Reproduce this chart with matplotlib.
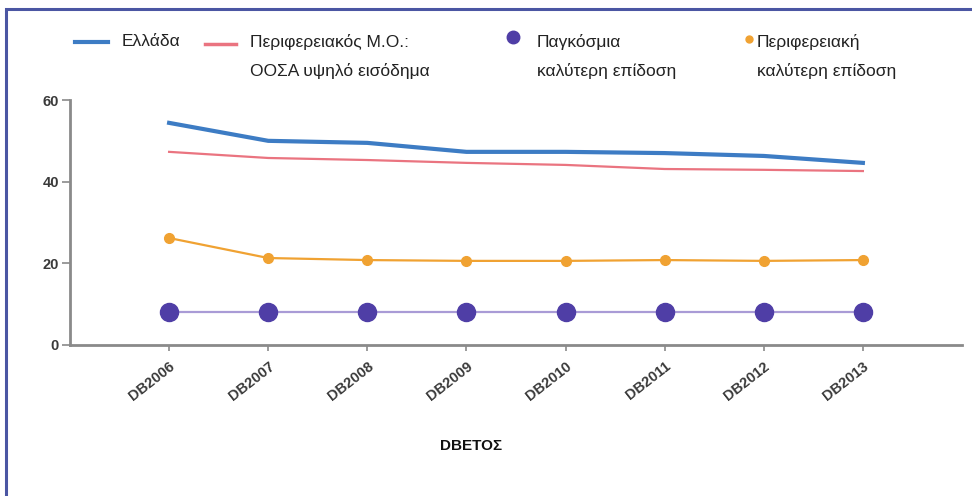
import matplotlib.pyplot as plt
from matplotlib.lines import Line2D
from matplotlib.patches import Rectangle
from matplotlib.transforms import ScaledTranslation

# Dane
lata = ['DB2006', 'DB2007', 'DB2008', 'DB2009', 'DB2010', 'DB2011', 'DB2012', 'DB2013']
ellada = [54.4, 50.0, 49.5, 47.3, 47.3, 47.0, 46.3, 44.6]
perif_mo = [47.3, 45.8, 45.3, 44.6, 44.1, 43.1, 42.9, 42.6]
perif_best = [26.2, 21.3, 20.8, 20.6, 20.6, 20.8, 20.6, 20.8]
global_best = [8.1, 8.1, 8.1, 8.1, 8.1, 8.1, 8.1, 8.1]

c_blue = '#3d7cc4'
c_red = '#ea7480'
c_orange = '#f0a232'
c_purple = '#4f3ea6'
c_purple_line = '#a99bd6'
c_axis = '#8a8a8a'
c_text = '#3a3a3a'

plt.rcParams['font.family'] = ['Liberation Sans', 'DejaVu Sans']

fig = plt.figure(figsize=(9.72, 4.96), dpi=100)
W, H = 972, 496
ax = fig.add_axes([70 / W, 1 - 345 / H, (962 - 70) / W, (345 - 100) / H])

x = range(len(lata))
ax.plot(x, global_best, color=c_purple_line, lw=1.6, marker='o', ms=13,
        mfc=c_purple, mec=c_purple, zorder=3)
ax.plot(x, perif_best, color=c_orange, lw=1.6, marker='o', ms=7,
        mfc=c_orange, mec=c_orange, zorder=3)
ax.plot(x, perif_mo, color=c_red, lw=1.6, zorder=4)
ax.plot(x, ellada, color=c_blue, lw=3, zorder=5)

ax.set_xlim(-1, 8)
ax.set_ylim(0, 60)
ax.set_yticks([0, 20, 40, 60])
ax.set_xticks(list(x))
ax.set_xticklabels(lata, rotation=38, ha='right', va='top', rotation_mode='anchor',
                   fontsize=10.5, fontweight='bold', color=c_text)
przesun = ScaledTranslation(10 / 100, 0, fig.dpi_scale_trans)
for lab in ax.get_xticklabels():
    lab.set_transform(lab.get_transform() + przesun)
for lab in ax.get_yticklabels():
    lab.set_fontsize(10.5)
    lab.set_fontweight('bold')
    lab.set_color(c_text)

for s in ['top', 'right']:
    ax.spines[s].set_visible(False)
for s in ['left', 'bottom']:
    ax.spines[s].set_color(c_axis)
    ax.spines[s].set_linewidth(2)
ax.tick_params(axis='y', length=6, width=1.2, color=c_axis, pad=2)
ax.tick_params(axis='x', length=4, width=1.2, color=c_axis, pad=6)

ax.set_xlabel('DBETOΣ', fontsize=11, fontweight='bold', color='#111111', labelpad=26, x=0.45)

# Legenda (reczna, tekst w dwoch liniach)
def pozycja(px, py):
    return px / W, 1 - py / H

fs = 12.5
fig.add_artist(Line2D([75 / W, 108 / W], [1 - 42 / H] * 2, color=c_blue, lw=3))
fig.text(*pozycja(122, 42), 'Ελλάδα', fontsize=fs, va='center', color='#222222')
fig.add_artist(Line2D([205 / W, 236 / W], [1 - 44 / H] * 2, color=c_red, lw=2.5))
fig.text(*pozycja(250, 42), 'Περιφερειακός Μ.Ο.:', fontsize=fs, va='center', color='#222222')
fig.text(*pozycja(250, 71), 'ΟΟΣΑ υψηλό εισόδημα', fontsize=fs, va='center', color='#222222')
fig.add_artist(Line2D([513 / W], [1 - 37 / H], marker='o', ms=9, color=c_purple, lw=0))
fig.text(*pozycja(537, 42), 'Παγκόσμια', fontsize=fs, va='center', color='#222222')
fig.text(*pozycja(537, 71), 'καλύτερη επίδοση', fontsize=fs, va='center', color='#222222')
fig.add_artist(Line2D([749 / W], [1 - 39 / H], marker='o', ms=5, color=c_orange, lw=0))
fig.text(*pozycja(757, 42), 'Περιφερειακή', fontsize=fs, va='center', color='#222222')
fig.text(*pozycja(757, 71), 'καλύτερη επίδοση', fontsize=fs, va='center', color='#222222')

# Ramka dookola
fig.add_artist(Rectangle((6 / W, -0.05), 1.1, 1 - 9 / H + 0.05, transform=fig.transFigure,
                         fill=False, edgecolor='#4b56a3', lw=2.2))

fig.savefig('out.png', dpi=100)
